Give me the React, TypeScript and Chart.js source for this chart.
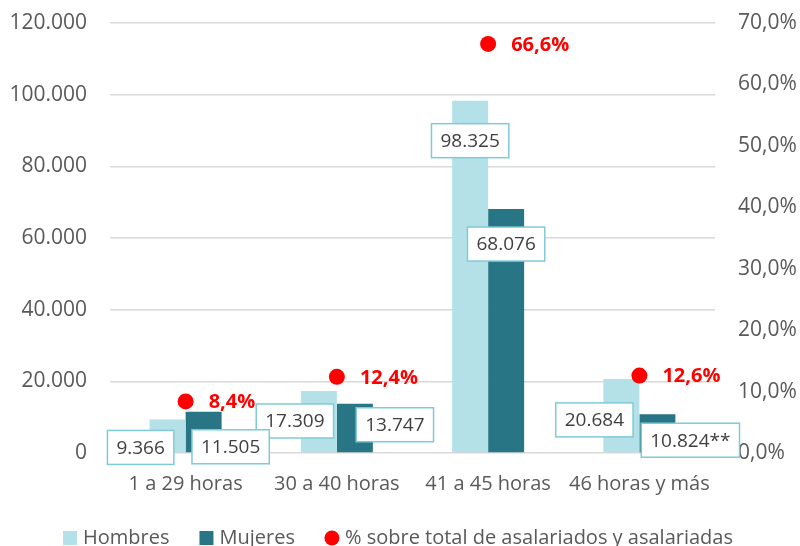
import React, { useEffect, useRef } from "react";
import { Chart, registerables } from "chart.js";

Chart.register(...registerables);

const categories = ["1 a 29 horas", "30 a 40 horas", "41 a 45 horas", "46 horas y más"];
const hombres = [9366, 17309, 98325, 20684];
const mujeres = [11505, 13747, 68076, 10824];
const porcentaje = [8.4, 12.4, 66.6, 12.6];
const hombresLabels = ["9.366", "17.309", "98.325", "20.684"];
const mujeresLabels = ["11.505", "13.747", "68.076", "10.824**"];
const pctLabels = ["8,4%", "12,4%", "66,6%", "12,6%"];
const leftTicks = [0, 20000, 40000, 60000, 80000, 100000, 120000];
const rightTicks = [0, 10, 20, 30, 40, 50, 60, 70];

// label placement offsets (px) relative to bar center / bar top
const hombresOffsets = [[-27, 28], [-24, 30], [0, 40], [-27, 41]];
const mujeresOffsets = [[27, 35], [40, 21], [0, 35], [33, 26]];

const FONT = "'Open Sans', sans-serif";
const C_H = "#b4e0e8";
const C_M = "#277585";
const C_RED = "#ff0000";
const C_TXT = "#595959";

const fmtThousands = (v: number) =>
  String(Math.round(v)).replace(/\B(?=(\d{3})+(?!\d))/g, ".");

const labelPlugin = {
  id: "boxLabels",
  afterDatasetsDraw(chart: any) {
    const ctx = chart.ctx;
    ctx.save();
    const sets = [
      { idx: 0, labels: hombresLabels, offs: hombresOffsets },
      { idx: 1, labels: mujeresLabels, offs: mujeresOffsets },
    ];
    ctx.font = `19px ${FONT}`;
    ctx.textAlign = "center";
    ctx.textBaseline = "middle";
    sets.forEach((s) => {
      const meta = chart.getDatasetMeta(s.idx);
      meta.data.forEach((bar: any, i: number) => {
        const cx = bar.x + s.offs[i][0];
        const cy = bar.y + s.offs[i][1];
        const text = s.labels[i];
        const w = ctx.measureText(text).width + 18;
        const h = 34;
        ctx.fillStyle = "#ffffff";
        ctx.fillRect(cx - w / 2, cy - h / 2, w, h);
        ctx.strokeStyle = "#80cad8";
        ctx.lineWidth = 1.5;
        ctx.strokeRect(cx - w / 2, cy - h / 2, w, h);
        ctx.fillStyle = "#404040";
        ctx.fillText(text, cx, cy + 1);
      });
    });
    const pm = chart.getDatasetMeta(2);
    ctx.font = `bold 20px ${FONT}`;
    ctx.textAlign = "left";
    ctx.fillStyle = C_RED;
    pm.data.forEach((pt: any, i: number) => {
      ctx.fillText(pctLabels[i], pt.x + 23, pt.y + 1);
    });
    ctx.restore();
  },
};

const legendPlugin = {
  id: "customLegend",
  afterDraw(chart: any) {
    const ctx = chart.ctx;
    ctx.save();
    ctx.font = `20px ${FONT}`;
    ctx.textBaseline = "alphabetic";
    ctx.textAlign = "left";
    const items = [
      { text: "Hombres", color: C_H, shape: "rect" },
      { text: "Mujeres", color: C_M, shape: "rect" },
      { text: "% sobre total de asalariados y asalariadas", color: C_RED, shape: "circle" },
    ];
    let x = 63;
    const baseline = 544;
    items.forEach((it) => {
      ctx.fillStyle = it.color;
      if (it.shape === "rect") {
        ctx.fillRect(x, 531, 14, 14);
      } else {
        ctx.beginPath();
        ctx.arc(x + 7, 538, 7.5, 0, Math.PI * 2);
        ctx.fill();
      }
      x += 20;
      ctx.fillStyle = C_TXT;
      ctx.fillText(it.text, x, baseline);
      x += ctx.measureText(it.text).width + 30;
    });
    ctx.restore();
  },
};

export default function App() {
  const ref = useRef<HTMLCanvasElement>(null);
  useEffect(() => {
    if (!ref.current) return;
    const chart = new Chart(ref.current, {
      type: "bar",
      data: {
        labels: categories,
        datasets: [
          {
            type: "bar",
            label: "Hombres",
            data: hombres,
            backgroundColor: C_H,
            yAxisID: "y",
            categoryPercentage: 0.476,
            barPercentage: 1,
            order: 2,
          },
          {
            type: "bar",
            label: "Mujeres",
            data: mujeres,
            backgroundColor: C_M,
            yAxisID: "y",
            categoryPercentage: 0.476,
            barPercentage: 1,
            order: 2,
          },
          {
            type: "line",
            label: "% sobre total de asalariados y asalariadas",
            data: porcentaje,
            yAxisID: "y2",
            showLine: false,
            pointRadius: 8,
            pointHoverRadius: 8,
            pointBackgroundColor: C_RED,
            pointBorderWidth: 0,
            borderColor: C_RED,
            backgroundColor: C_RED,
            order: 1,
          },
        ] as any,
      },
      options: {
        animation: false,
        responsive: true,
        maintainAspectRatio: false,
        layout: { padding: { top: 23, left: 0, right: 0, bottom: 43 } },
        plugins: {
          legend: { display: false },
          tooltip: { enabled: false },
        },
        scales: {
          x: {
            grid: { display: false, drawTicks: false },
            border: { display: false },
            ticks: { color: C_TXT, font: { family: FONT, size: 20 }, padding: 19, maxRotation: 0 },
            afterFit: (s: any) => { s.height = 50; },
          },
          y: {
            position: "left",
            min: 0,
            max: 120000,
            afterBuildTicks: (s: any) => { s.ticks = leftTicks.map((v) => ({ value: v })); },
            grid: { color: "#d9d9d9", lineWidth: 1.5, drawTicks: false },
            border: { display: false },
            ticks: {
              color: C_TXT,
              font: { family: FONT, size: 21 },
              padding: 23,
              callback: (v: any) => fmtThousands(Number(v)),
            },
            afterFit: (s: any) => { s.width = 110; s.paddingTop = 0; s.paddingBottom = 0; },
          },
          y2: {
            position: "right",
            min: 0,
            max: 70,
            afterBuildTicks: (s: any) => { s.ticks = rightTicks.map((v) => ({ value: v })); },
            grid: { drawOnChartArea: false, drawTicks: false },
            border: { display: false },
            ticks: {
              color: C_TXT,
              font: { family: FONT, size: 21 },
              padding: 23,
              callback: (v: any) => Number(v).toFixed(1).replace(".", ",") + "%",
            },
            afterFit: (s: any) => { s.width = 85; s.paddingTop = 0; s.paddingBottom = 0; },
          },
        },
      } as any,
      plugins: [labelPlugin, legendPlugin],
    });
    return () => chart.destroy();
  }, []);
  return (
    <div style={{ position: "fixed", left: 0, top: 0, width: 800, height: 546, background: "#fff" }}>
      <canvas ref={ref} />
    </div>
  );
}
